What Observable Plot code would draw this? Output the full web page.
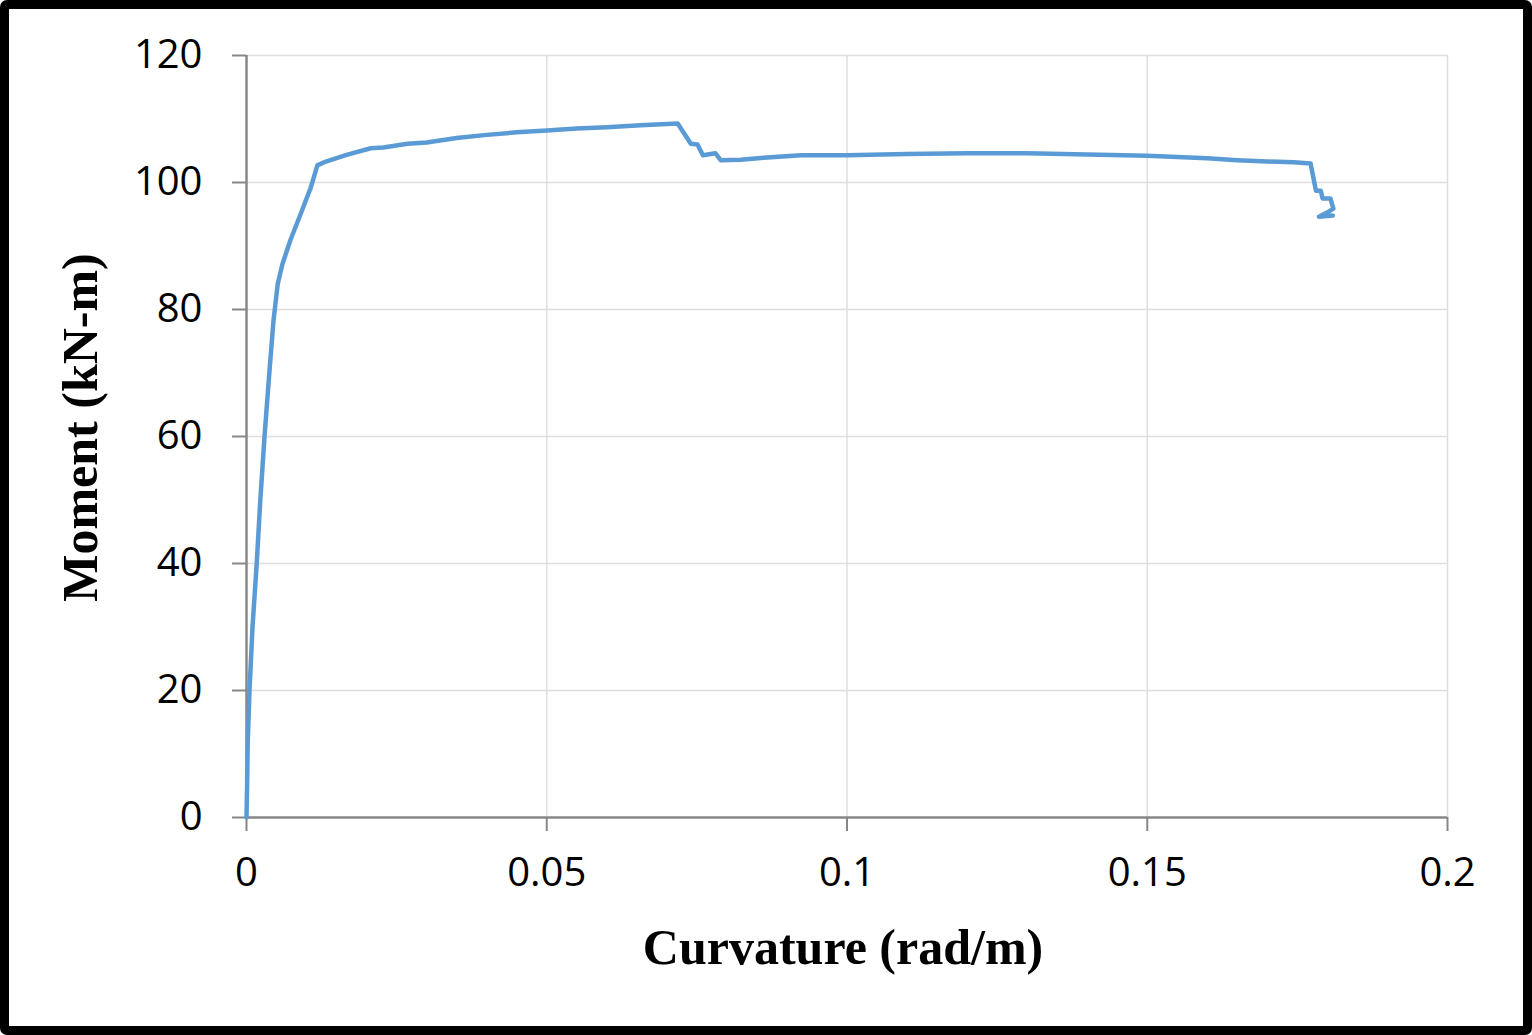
<!DOCTYPE html>
<html>
<head>
<meta charset="utf-8">
<script src="https://cdn.jsdelivr.net/npm/d3@7"></script>
<script src="https://cdn.jsdelivr.net/npm/@observablehq/plot@0.6"></script>
<style>
  html, body { margin: 0; padding: 0; background: #fff; }
  #frame {
    box-sizing: border-box;
    width: 1532px; height: 1035px;
    border: 9px solid #000;
    border-radius: 7px;
    background: #fff;
    overflow: hidden;
  }
  #frame svg { display: block; }
</style>
</head>
<body>
<div id="frame"></div>
<script>
const curvature = [0, 0.0001, 0.0002, 0.0005, 0.0010, 0.0017, 0.0023, 0.0030, 0.0038, 0.0045, 0.0052, 0.0060, 0.0073, 0.0090, 0.0107, 0.0118, 0.0132, 0.0168, 0.0207, 0.0228, 0.0268, 0.030, 0.035, 0.040, 0.045, 0.050, 0.055, 0.060, 0.0656, 0.0700, 0.0718, 0.0740, 0.0751, 0.0760, 0.0781, 0.0790, 0.0823, 0.0861, 0.0923, 0.100, 0.110, 0.120, 0.130, 0.140, 0.150, 0.160, 0.165, 0.170, 0.1744, 0.1772, 0.1781, 0.1789, 0.1792, 0.1805, 0.1810, 0.1800, 0.1786, 0.1809];
const moment = [0, 5, 11.6, 20, 30, 40, 50, 60, 70, 78.3, 84, 87.2, 90.9, 95, 99.2, 102.7, 103.3, 104.4, 105.4, 105.5, 106.1, 106.3, 107, 107.5, 107.9, 108.2, 108.5, 108.7, 109.0, 109.2, 109.3, 106.1, 106.0, 104.3, 104.6, 103.5, 103.6, 103.9, 104.3, 104.3, 104.5, 104.6, 104.6, 104.4, 104.2, 103.8, 103.5, 103.3, 103.2, 103.0, 98.7, 98.7, 97.5, 97.5, 95.9, 95.3, 94.6, 94.8];
const xTicks = [0, 0.05, 0.1, 0.15, 0.2];
const xTickLabels = ["0", "0.05", "0.1", "0.15", "0.2"];
const yTicks = [0, 20, 40, 60, 80, 100, 120];
const xTitle = "Curvature (rad/m)";
const yTitle = "Moment (kN-m)";

const data = curvature.map((c, i) => ({c, m: moment[i]}));

const chart = Plot.plot({
  width: 1514,
  height: 1017,
  marginLeft: 237,
  marginRight: 76,
  marginTop: 46,
  marginBottom: 209,
  style: {fontFamily: "'Open Sans', sans-serif", background: "#fff"},
  x: {domain: [0, 0.2]},
  y: {domain: [0, 120]},
  marks: [
    Plot.ruleY(yTicks.filter(d => d > 0), {stroke: "#dedede", strokeWidth: 1.5}),
    Plot.ruleX(xTicks.filter(d => d > 0), {stroke: "#dedede", strokeWidth: 1.5}),
    Plot.axisY({ticks: yTicks, tickSize: 14, tickPadding: 30, stroke: "#878787", strokeWidth: 2, fontSize: 40, color: "#000", label: null}),
    Plot.axisX({ticks: xTicks, tickFormat: (d, i) => xTickLabels[i], tickSize: 14, tickPadding: 26, stroke: "#878787", strokeWidth: 2, fontSize: 40, color: "#000", label: null}),
    Plot.ruleX([0], {stroke: "#878787", strokeWidth: 2.5}),
    Plot.ruleY([0], {stroke: "#878787", strokeWidth: 2.5}),
    Plot.line(data, {x: "c", y: "m", stroke: "#5b9bd5", strokeWidth: 4.5, curve: "linear", strokeLinejoin: "round"}),
    Plot.text([xTitle], {frameAnchor: "bottom", dx: -4, dy: 146, textAnchor: "middle", text: d => d, fontFamily: "'Liberation Serif', 'Times New Roman', serif", fontWeight: "bold", fontSize: 50, fill: "#000"}),
    Plot.text([yTitle], {frameAnchor: "left", dx: -166, dy: -9, rotate: -90, textAnchor: "middle", text: d => d, fontFamily: "'Liberation Serif', 'Times New Roman', serif", fontWeight: "bold", fontSize: 50, fill: "#000"})
  ]
});
document.getElementById("frame").appendChild(chart);
</script>
</body>
</html>
